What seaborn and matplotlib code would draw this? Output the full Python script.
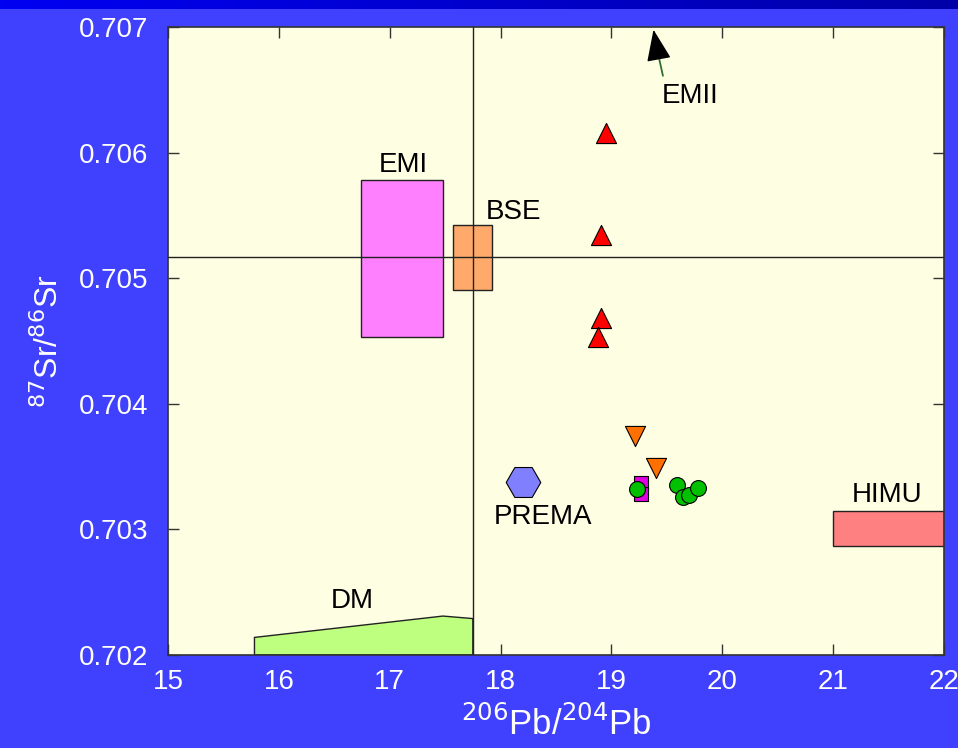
import numpy as np
import pandas as pd
import matplotlib
matplotlib.use("Agg")
import matplotlib.pyplot as plt
from matplotlib.patches import Rectangle, Polygon
import seaborn as sns

# ---- data ----------------------------------------------------------------
# Red upward triangles
red_pb = [18.95, 18.91, 18.91, 18.88]
red_sr = [0.70616, 0.70534, 0.70468, 0.70453]
# Orange downward triangles
org_pb = [19.21, 19.40]
org_sr = [0.70374, 0.70349]
# Magenta squares
mag_pb = [19.27, 19.27]
mag_sr = [0.70337, 0.70328]
# Green circles
grn_pb = [19.23, 19.59, 19.65, 19.70, 19.78]
grn_sr = [0.70332, 0.70335, 0.70326, 0.70327, 0.70333]
# PREMA reservoir
prema_pb = [18.20]
prema_sr = [0.70338]

# Mantle end-member fields (x0, x1, y0, y1)
emi_box = (16.74, 17.48, 0.70453, 0.70578)
bse_box = (17.57, 17.92, 0.70491, 0.70542)
himu_box = (21.00, 22.00, 0.70287, 0.70315)
dm_pb = [15.78, 15.78, 17.48, 17.75, 17.75]
dm_sr = [0.70200, 0.70214, 0.70231, 0.70229, 0.70200]

# Bulk silicate earth reference lines
bse_pb_line = 17.75
bse_sr_line = 0.70517

x_ticks = [15, 16, 17, 18, 19, 20, 21, 22]
y_ticks = [0.702, 0.703, 0.704, 0.705, 0.706, 0.707]
y_tick_labels = ["0.702", "0.703", "0.704", "0.705", "0.706", "0.707"]

# ---- styling -------------------------------------------------------------
sns.set_style("ticks", {"axes.facecolor": "#FEFEE2",
                        "xtick.direction": "in", "ytick.direction": "in"})
plt.rcParams["font.family"] = ["Liberation Sans", "DejaVu Sans"]

BG = "#4040FF"
fig = plt.figure(figsize=(9.58, 7.48), dpi=100, facecolor=BG)

# dark title band across the top
band = fig.add_axes([0, 1 - 9 / 748, 1, 9 / 748])
grad = np.linspace(0, 1, 256)[None, :]
band.imshow(grad, aspect="auto", extent=[0, 1, 0, 1],
            cmap=matplotlib.colors.LinearSegmentedColormap.from_list(
                "band", ["#0000F2", "#0000A8"]))
band.set_axis_off()

ax = fig.add_axes([168 / 958, 1 - 655 / 748, (944 - 168) / 958, (655 - 27) / 748])
ax.set_xlim(15, 22)
ax.set_ylim(0.702, 0.707)

# reservoir fields
def box(b, color):
    x0, x1, y0, y1 = b
    ax.add_patch(Rectangle((x0, y0), x1 - x0, y1 - y0, facecolor=color,
                           edgecolor="#222222", lw=1.0, zorder=2))

box(emi_box, "#FF80FF")
box(bse_box, "#FFAA6A")
box(himu_box, "#FF8080")
ax.add_patch(Polygon(list(zip(dm_pb, dm_sr)), closed=True, facecolor="#BFFF80",
                     edgecolor="#222222", lw=1.0, zorder=2))

ax.axvline(bse_pb_line, color="#222222", lw=1.0, zorder=3)
ax.axhline(bse_sr_line, color="#222222", lw=1.0, zorder=3)

# samples
kw = dict(ax=ax, edgecolor="black", linewidth=0.8, zorder=5, legend=False)
sns.scatterplot(x=prema_pb, y=prema_sr, marker="H", s=620, color="#8080FF", **kw)
sns.scatterplot(x=red_pb, y=red_sr, marker="^", s=210, color="#FF0000", **kw)
sns.scatterplot(x=org_pb, y=org_sr, marker="v", s=210, color="#FF7000", **kw)
sns.scatterplot(x=mag_pb, y=mag_sr, marker="s", s=110, color="#E000E0", **kw)
sns.scatterplot(x=grn_pb, y=grn_sr, marker="o", s=130, color="#00C000", **kw)

# field labels
lab = dict(fontsize=20, color="black", ha="center", va="center", zorder=6)
ax.text(17.12, 0.70590, "EMI", **lab)
ax.text(18.12, 0.70553, "BSE", **lab)
ax.text(18.38, 0.70310, "PREMA", **lab)
ax.text(21.49, 0.70327, "HIMU", **lab)
ax.text(16.66, 0.70243, "DM", **lab)
ax.text(19.71, 0.70645, "EMII", **lab)

# arrow pointing to EMII beyond the top of the axes
ax.annotate("", xy=(19.41, 0.70683), xytext=(19.47, 0.70659),
            arrowprops=dict(arrowstyle="-", color="#2F6F2F", lw=1.3),
            annotation_clip=False, zorder=6)
ax.annotate("", xy=(19.375, 0.70700), xytext=(19.41, 0.70683),
            arrowprops=dict(arrowstyle="-|>,head_length=0.9,head_width=0.35",
                            color="black", lw=1.0, mutation_scale=22),
            annotation_clip=False, zorder=6)

# axes, ticks and labels
ax.set_xticks(x_ticks)
ax.set_yticks(y_ticks)
ax.set_yticklabels(y_tick_labels)
ax.tick_params(axis="both", which="both", direction="in", top=True, right=True,
               length=8, width=1.0, color="#333333", labelsize=20,
               labelcolor="white")
ax.tick_params(axis="y", pad=14)
ax.tick_params(axis="x", pad=10)
for sp in ax.spines.values():
    sp.set_color("#333333")
    sp.set_linewidth(1.2)

ax.set_xlabel(r"$^{206}$Pb/$^{204}$Pb", fontsize=25, color="white", labelpad=8)
ax.set_ylabel(r"$^{87}$Sr/$^{86}$Sr", fontsize=23, color="white", labelpad=10)

fig.savefig("out.png", dpi=100, facecolor=BG)
